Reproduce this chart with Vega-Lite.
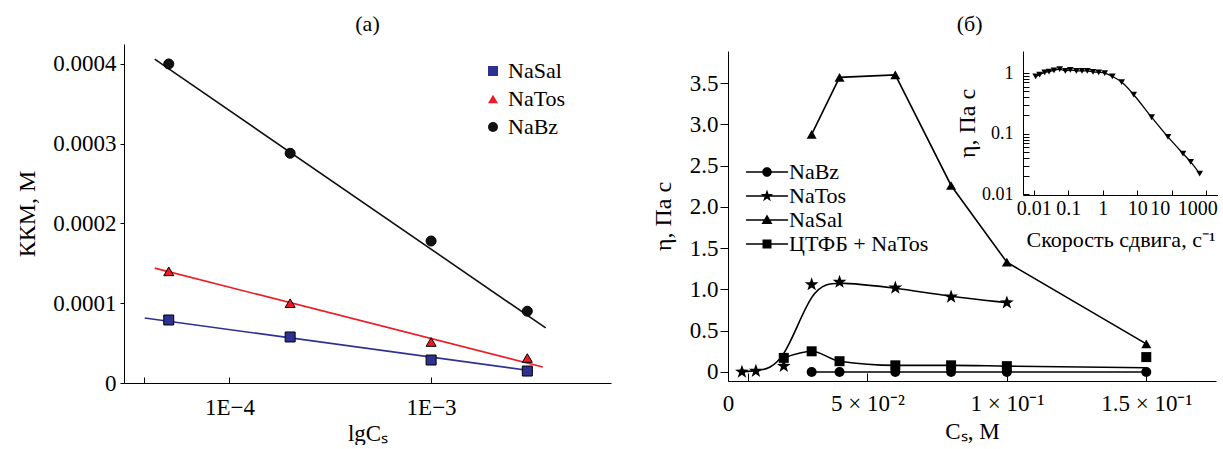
{
  "$schema": "https://vega.github.io/schema/vega-lite/v6.json",
  "background": "white",
  "padding": {"left": 15, "top": 13, "right": 0, "bottom": 0},
  "config": {
    "view": {"stroke": null},
    "font": "Liberation Serif",
    "axis": {"grid": false, "domainColor": "black", "tickColor": "black", "labelColor": "black", "titleColor": "black", "labelFont": "Liberation Serif", "titleFont": "Liberation Serif", "titleFontWeight": "normal", "labelOverlap": false, "labelFlush": false, "labelBound": false, "domainWidth": 1, "tickWidth": 1},
    "legend": {"labelFont": "Liberation Serif", "labelColor": "black"},
    "title": {"font": "Liberation Serif", "fontWeight": "normal", "color": "black", "anchor": "middle"}
  },
  "resolve": {"scale": {"shape": "independent", "color": "independent", "x": "independent", "y": "independent"}, "legend": {"shape": "independent", "color": "independent"}},
  "datasets": {
    "a_pts": [
      {"s": "NaBz", "x": 5e-5, "y": 0.0004},
      {"s": "NaBz", "x": 2e-4, "y": 0.000288},
      {"s": "NaBz", "x": 1e-3, "y": 0.000178},
      {"s": "NaBz", "x": 3e-3, "y": 0.00009},
      {"s": "NaTos", "x": 5e-5, "y": 0.00014},
      {"s": "NaTos", "x": 2e-4, "y": 0.0001},
      {"s": "NaTos", "x": 1e-3, "y": 0.0000514},
      {"s": "NaTos", "x": 3e-3, "y": 0.0000313},
      {"s": "NaSal", "x": 5e-5, "y": 0.000079},
      {"s": "NaSal", "x": 2e-4, "y": 0.0000577},
      {"s": "NaSal", "x": 1e-3, "y": 0.0000288},
      {"s": "NaSal", "x": 3e-3, "y": 0.000015}
    ],
    "a_fit": [
      {"s": "NaBz", "x": 4.26e-5, "y": 0.000406},
      {"s": "NaBz", "x": 3.7e-3, "y": 0.000069},
      {"s": "NaTos", "x": 4.26e-5, "y": 0.000144},
      {"s": "NaTos", "x": 3.58e-3, "y": 0.00002},
      {"s": "NaSal", "x": 3.8e-5, "y": 0.0000815},
      {"s": "NaSal", "x": 3.2e-3, "y": 0.000015}
    ],
    "b": [
      {"s": "NaBz", "x": 0.03, "y": 0, "k": "both"},
      {"s": "NaBz", "x": 0.04, "y": 0, "k": "both"},
      {"s": "NaBz", "x": 0.06, "y": 0, "k": "both"},
      {"s": "NaBz", "x": 0.08, "y": 0, "k": "both"},
      {"s": "NaBz", "x": 0.1, "y": 0, "k": "both"},
      {"s": "NaBz", "x": 0.15, "y": 0, "k": "both"},
      {"s": "NaTos", "x": 0.005, "y": 0.0, "k": "both"},
      {"s": "NaTos", "x": 0.01, "y": 0.01, "k": "both"},
      {"s": "NaTos", "x": 0.02, "y": 0.07, "k": "both"},
      {"s": "NaTos", "x": 0.03, "y": 1.06, "k": "both"},
      {"s": "NaTos", "x": 0.04, "y": 1.09, "k": "both"},
      {"s": "NaTos", "x": 0.06, "y": 1.02, "k": "both"},
      {"s": "NaTos", "x": 0.08, "y": 0.91, "k": "both"},
      {"s": "NaTos", "x": 0.1, "y": 0.84, "k": "both"},
      {"s": "NaSal", "x": 0.03, "y": 2.88, "k": "both"},
      {"s": "NaSal", "x": 0.04, "y": 3.57, "k": "both"},
      {"s": "NaSal", "x": 0.06, "y": 3.6, "k": "both"},
      {"s": "NaSal", "x": 0.08, "y": 2.26, "k": "both"},
      {"s": "NaSal", "x": 0.1, "y": 1.33, "k": "both"},
      {"s": "NaSal", "x": 0.15, "y": 0.34, "k": "both"},
      {"s": "ЦТФБ + NaTos", "x": 0.02, "y": 0.17, "k": "both"},
      {"s": "ЦТФБ + NaTos", "x": 0.03, "y": 0.25, "k": "both"},
      {"s": "ЦТФБ + NaTos", "x": 0.04, "y": 0.13, "k": "both"},
      {"s": "ЦТФБ + NaTos", "x": 0.06, "y": 0.08, "k": "both"},
      {"s": "ЦТФБ + NaTos", "x": 0.08, "y": 0.08, "k": "both"},
      {"s": "ЦТФБ + NaTos", "x": 0.1, "y": 0.07, "k": "both"},
      {"s": "ЦТФБ + NaTos", "x": 0.15, "y": 0.05, "k": "line"},
      {"s": "ЦТФБ + NaTos", "x": 0.15, "y": 0.18, "k": "marker"}
    ],
    "inset": [
      {"x": 0.0114, "y": 0.88}, {"x": 0.0149, "y": 0.94}, {"x": 0.0208, "y": 1.03}, {"x": 0.0278, "y": 1.06},
      {"x": 0.0388, "y": 1.11}, {"x": 0.0566, "y": 1.16}, {"x": 0.0826, "y": 1.09}, {"x": 0.115, "y": 1.13},
      {"x": 0.172, "y": 1.09}, {"x": 0.251, "y": 1.09}, {"x": 0.358, "y": 1.09}, {"x": 0.522, "y": 1.05},
      {"x": 0.762, "y": 1.03}, {"x": 1.14, "y": 1.0}, {"x": 1.9, "y": 0.88}, {"x": 3.53, "y": 0.71},
      {"x": 7.87, "y": 0.44}, {"x": 26.1, "y": 0.187}, {"x": 77.6, "y": 0.0887}, {"x": 211, "y": 0.0472},
      {"x": 352, "y": 0.0344}, {"x": 641, "y": 0.0221}
    ]
  },
  "spacing": 40,
  "hconcat": [
    {
      "width": 487, "height": 339,
      "title": {"text": "(a)", "fontSize": 22, "offset": 8, "frame": "group"},
      "encoding": {
        "x": {"field": "x", "type": "quantitative", "scale": {"type": "log", "domain": [3e-5, 7.8e-3], "nice": false},
          "axis": {"title": "lgCₛ", "titleFontSize": 23, "titlePadding": 3, "values": [3.75e-5, 1e-4, 1e-3], "labelExpr": "datum.value > 9e-5 && datum.value < 1.1e-4 ? '1E−4' : (datum.value > 9e-4 && datum.value < 1.1e-3 ? '1E−3' : '')", "tickSize": -6, "labelPadding": 19, "labelFontSize": 23}},
        "y": {"field": "y", "type": "quantitative", "scale": {"domain": [0, 0.000425], "nice": false, "zero": false},
          "axis": {"title": "ККМ, М", "titleFontSize": 24, "titlePadding": 13, "values": [0, 0.0001, 0.0002, 0.0003, 0.0004], "labelExpr": "datum.value == 0 ? '0' : format(datum.value, '.4f')", "tickSize": 4, "labelPadding": 4, "labelFontSize": 23}}
      },
      "layer": [
        {"data": {"name": "a_fit"}, "transform": [{"filter": "datum.s == 'NaSal'"}], "mark": {"type": "line", "strokeWidth": 1.6, "color": "#2e3192"}, "encoding": {}},
        {"data": {"name": "a_fit"}, "transform": [{"filter": "datum.s == 'NaTos'"}], "mark": {"type": "line", "strokeWidth": 1.6, "color": "#ed1c24"}, "encoding": {}},
        {"data": {"name": "a_fit"}, "transform": [{"filter": "datum.s == 'NaBz'"}], "mark": {"type": "line", "strokeWidth": 1.6, "color": "#111111"}, "encoding": {}},
        {
          "data": {"name": "a_pts"},
          "mark": {"type": "point", "filled": true, "size": 100, "stroke": "black", "strokeWidth": 1, "opacity": 1},
          "encoding": {
            "color": {"field": "s", "type": "nominal", "scale": {"domain": ["NaSal", "NaTos", "NaBz"], "range": ["#2e3192", "#ed1c24", "#111111"]},
              "legend": {"title": null, "orient": "none", "legendX": 358, "legendY": 16, "padding": 0, "rowPadding": 6, "labelOffset": 4, "symbolSize": 100, "labelFontSize": 22, "symbolStrokeColor": "black", "symbolStrokeWidth": 1, "symbolOpacity": 1}},
            "shape": {"field": "s", "type": "nominal", "scale": {"domain": ["NaSal", "NaTos", "NaBz"], "range": ["square", "triangle-up", "circle"]},
              "legend": {"title": null, "orient": "none", "legendX": 358, "legendY": 16, "padding": 0, "rowPadding": 6, "labelOffset": 4, "symbolSize": 100, "labelFontSize": 22, "symbolStrokeColor": "black", "symbolStrokeWidth": 1, "symbolOpacity": 1}}
          }
        }
      ]
    },
    {
      "title": {"text": "(б)", "fontSize": 22, "offset": 8, "frame": "bounds", "dx": 35},
      "spacing": 6,
      "resolve": {"scale": {"shape": "independent", "x": "independent", "y": "independent"}, "legend": {"shape": "independent"}},
      "vconcat": [
        {"width": 1, "height": 1, "data": {"values": []}, "mark": "point", "encoding": {}},
        {
          "align": "none",
          "spacing": -261,
          "resolve": {"scale": {"shape": "independent", "x": "independent", "y": "independent"}, "legend": {"shape": "independent"}},
          "hconcat": [
            {
              "width": 488, "height": 330,
              "data": {"name": "b"},
              "encoding": {
                "x": {"field": "x", "type": "quantitative", "scale": {"domain": [0, 0.175], "nice": false},
                  "axis": {"title": "Cₛ, М", "titleFontSize": 23, "titlePadding": 5, "values": [0, 0.007, 0.05, 0.1, 0.15], "labelExpr": "datum.value == 0 ? '0' : (datum.value < 0.01 ? '' : (datum.value < 0.07 ? '5 × 10⁻²' : (datum.value < 0.12 ? '1 × 10⁻¹' : '1.5 × 10⁻¹')))", "tickSize": -8, "labelPadding": 19, "labelFontSize": 23}},
                "y": {"field": "y", "type": "quantitative", "scale": {"domain": [-0.11, 3.89], "nice": false, "zero": false},
                  "axis": {"title": "η, Па с", "titleFontSize": 24, "titlePadding": 14, "values": [0, 0.5, 1, 1.5, 2, 2.5, 3, 3.5], "labelExpr": "datum.value == 0 ? '0' : format(datum.value, '.1f')", "tickSize": 8, "labelPadding": 2, "labelFontSize": 23}}
              },
              "resolve": {"scale": {"shape": "independent"}, "legend": {"shape": "independent"}},
              "layer": [
                {
                  "transform": [{"filter": "(datum.s == 'NaBz' || datum.s == 'NaSal') && datum.k != 'marker'"}],
                  "mark": {"type": "line", "color": "black", "strokeWidth": 1.6},
                  "encoding": {"detail": {"field": "s"}}
                },
                {
                  "transform": [{"filter": "datum.s == 'NaTos'"}],
                  "mark": {"type": "line", "color": "black", "strokeWidth": 1.6, "interpolate": "basis"},
                  "encoding": {"detail": {"field": "s"}}
                },
                {
                  "transform": [{"filter": "datum.s == 'ЦТФБ + NaTos' && datum.k != 'marker'"}],
                  "mark": {"type": "line", "color": "black", "strokeWidth": 1.6, "interpolate": "monotone"},
                  "encoding": {"detail": {"field": "s"}}
                },
                {
                  "transform": [{"filter": "datum.k != 'line'"}],
                  "mark": {"type": "point", "filled": true, "size": 100, "color": "black", "opacity": 1},
                  "encoding": {
                    "shape": {"field": "s", "type": "nominal",
                      "scale": {"domain": ["NaBz", "NaTos", "NaSal", "ЦТФБ + NaTos"], "range": ["circle", "M0,-1.45L0.341,-0.47L1.379,-0.448L0.551,0.18L0.853,1.173L0,0.58L-0.853,1.173L-0.551,0.18L-1.379,-0.448L-0.341,-0.47Z", "triangle-up", "square"]},
                      "legend": null}
                  }
                },
                {
                  "transform": [{"filter": "false"}],
                  "mark": {"type": "point", "filled": true, "size": 100, "color": "black", "opacity": 1},
                  "encoding": {
                    "shape": {"field": "s", "type": "nominal",
                      "scale": {"domain": ["NaBz", "NaTos", "NaSal", "ЦТФБ + NaTos"], "range": [
                        "M-4.2,-0.16H4.2V0.16H-4.2ZM-0.95,0A0.95,0.95 0 1,1 0.95,0A0.95,0.95 0 1,1 -0.95,0Z",
                        "M-4.2,-0.16H4.2V0.16H-4.2ZM0,-1.3L0.306,-0.421L1.236,-0.402L0.494,0.161L0.765,1.052L0,0.52L-0.765,1.052L-0.494,0.161L-1.236,-0.402L-0.306,-0.421Z",
                        "M-4.2,-0.16H4.2V0.16H-4.2ZM0,-1.1L1.1,0.8L-1.1,0.8Z",
                        "M-4.2,-0.16H4.2V0.16H-4.2ZM-0.9,-0.9H0.9V0.9H-0.9Z"]},
                      "legend": {"title": null, "orient": "none", "legendX": 28, "legendY": 110, "padding": 0, "rowPadding": 2, "labelOffset": 11, "symbolSize": 100, "labelFontSize": 22, "symbolFillColor": "black", "symbolStrokeWidth": 0, "symbolOpacity": 1}}
                  }
                }
              ]
            },
            {
              "width": 195, "height": 144,
              "data": {"name": "inset"},
              "encoding": {
                "x": {"field": "x", "type": "quantitative", "scale": {"type": "log", "domain": [0.0049, 2180], "nice": false},
                  "axis": {"title": "Скорость сдвига, с⁻¹", "titleFontSize": 22, "titlePadding": 11, "values": [0.01, 0.1, 1, 10, 100, 1000], "labelExpr": "datum.value < 0.05 ? '0.01' : (datum.value < 0.5 ? '0.1' : (datum.value < 5 ? '1' : (datum.value < 500 ? '10' : '1000')))", "labelOffset": {"condition": [{"test": "datum.value > 500", "value": -9}, {"test": "datum.value > 50", "value": -12}], "value": 0}, "tickSize": -5, "labelPadding": 8, "labelFontSize": 20}},
                "y": {"field": "y", "type": "quantitative", "scale": {"type": "log", "domain": [0.0098, 2.31], "nice": false},
                  "axis": {"title": "η, Па с", "titleFontSize": 24, "titlePadding": 2, "values": [0.01, 0.02, 0.03, 0.04, 0.05, 0.06, 0.07, 0.08, 0.09, 0.1, 0.2, 0.3, 0.4, 0.5, 0.6, 0.7, 0.8, 0.9, 1], "labelExpr": "datum.value == 1 ? '1' : (datum.value == 0.1 ? '0.1' : (datum.value == 0.01 ? '0.01' : ''))", "tickSize": -6, "labelPadding": 16, "labelFontSize": 18}}
              },
              "layer": [
                {"mark": {"type": "line", "color": "black", "strokeWidth": 1.3, "interpolate": "monotone"}, "encoding": {}},
                {"mark": {"type": "point", "shape": "triangle-down", "filled": true, "size": 45, "color": "black", "opacity": 1}, "encoding": {}}
              ]
            }
          ]
        }
      ]
    }
  ]
}
